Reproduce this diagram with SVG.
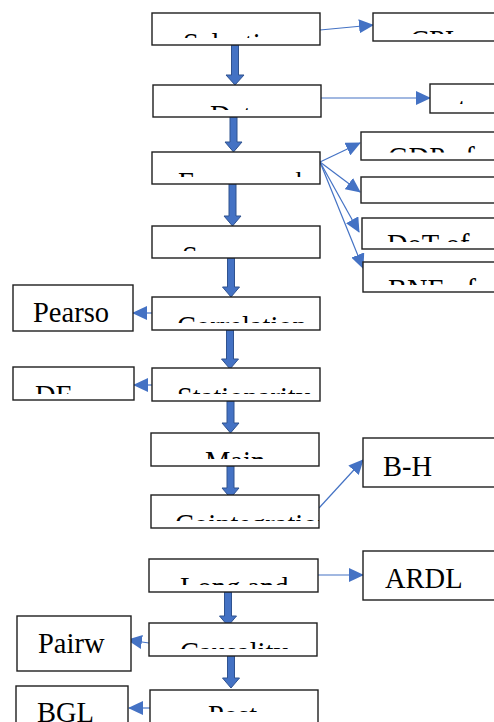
<svg xmlns="http://www.w3.org/2000/svg" width="494" height="722" viewBox="0 0 494 722">
<style>
.box{fill:#fff;stroke:#1e1e1e;stroke-width:1.4}
.t{font-family:"Liberation Serif","Times New Roman",serif;font-size:28.5px;fill:#000}
.thick{fill:#4472C4;stroke:#2F528F;stroke-width:1}
.thin{fill:none;stroke:#4472C4;stroke-width:1.2;marker-end:url(#ah)}
</style>
<defs>
<marker id="ah" markerUnits="userSpaceOnUse" markerWidth="15" markerHeight="14" refX="14" refY="7" orient="auto">
<path d="M0,0 L15,7 L0,14 Z" fill="#4472C4"/>
</marker>
<clipPath id="c1"><rect x="152" y="13" width="168" height="25"/></clipPath>
<clipPath id="c2"><rect x="153" y="85" width="168" height="25"/></clipPath>
<clipPath id="c3"><rect x="152" y="152" width="168" height="25"/></clipPath>
<clipPath id="c4"><rect x="152" y="226" width="168" height="25"/></clipPath>
<clipPath id="c5"><rect x="152" y="297" width="168" height="26"/></clipPath>
<clipPath id="c6"><rect x="152" y="368" width="168" height="26"/></clipPath>
<clipPath id="c7"><rect x="151" y="433" width="168" height="26"/></clipPath>
<clipPath id="c8"><rect x="151" y="495" width="168" height="26"/></clipPath>
<clipPath id="c9"><rect x="149" y="559" width="169" height="26"/></clipPath>
<clipPath id="c10"><rect x="149" y="623" width="168" height="26"/></clipPath>
<clipPath id="c11"><rect x="150" y="690" width="168" height="22"/></clipPath>
<clipPath id="r1"><rect x="373" y="13" width="121" height="21"/></clipPath>
<clipPath id="r2"><rect x="430" y="84" width="64" height="20"/></clipPath>
<clipPath id="r3"><rect x="361" y="132" width="133" height="20.5"/></clipPath>
<clipPath id="r5"><rect x="362" y="218" width="132" height="24"/></clipPath>
<clipPath id="r6"><rect x="363" y="262" width="131" height="23"/></clipPath>
<clipPath id="cdf"><rect x="13" y="367" width="121" height="27"/></clipPath>
</defs>

<g id="connectors">
<path class="thick" d="M231.5,45 L238.5,45 L238.5,75 L244,75 L235,85 L226,75 L231.5,75 Z"/>
<path class="thick" d="M230,117 L237,117 L237,142 L242,142 L233.5,152 L225,142 L230,142 Z"/>
<path class="thick" d="M229,184 L236,184 L236,216 L241,216 L232.5,226 L224,216 L229,216 Z"/>
<path class="thick" d="M227.5,258 L234.5,258 L234.5,287 L239.5,287 L231,297 L222.5,287 L227.5,287 Z"/>
<path class="thick" d="M226.5,330 L233.5,330 L233.5,359 L238.5,359 L230,369 L221.5,359 L226.5,359 Z"/>
<path class="thick" d="M227,401 L234,401 L234,423 L239,423 L230.5,433 L222,423 L227,423 Z"/>
<path class="thick" d="M227,466 L234,466 L234,488 L239,488 L230.5,498 L222,488 L227,488 Z"/>
<path class="thick" d="M224.5,592 L231.5,592 L231.5,616 L236.5,616 L228,626 L219.5,616 L224.5,616 Z"/>
<path class="thick" d="M227.5,655 L234.5,655 L234.5,678 L239.5,678 L231,688 L222.5,678 L227.5,678 Z"/>
<path class="thin" d="M320,30 L373,25"/>
<path class="thin" d="M321,98 L430,98"/>
<path class="thin" d="M320,162 L360,143"/>
<path class="thin" d="M320,162 L360,192"/>
<path class="thin" d="M320,162 L359,232"/>
<path class="thin" d="M320,162 L363,268"/>
<path class="thin" d="M152,313 L133,313"/>
<path class="thin" d="M152,385 L134,385"/>
<path class="thin" d="M319,508 L363,460"/>
<path class="thin" d="M318,575 L363,575"/>
<path class="thin" d="M149,643 L128,640"/>
<path class="thin" d="M150,708 L129,708"/>
</g>

<g id="n-selection"><rect class="box" x="152" y="13" width="168" height="32"/><text class="t" x="183" y="52.5" clip-path="url(#c1)">Selection</text></g>
<g id="n-cpi"><rect class="box" x="373" y="13" width="125" height="28"/><text class="t" x="410" y="50" clip-path="url(#r1)">CPI</text></g>
<g id="n-data"><rect class="box" x="153" y="85" width="168" height="32"/><text class="t" x="210" y="124.5" clip-path="url(#c2)">Data</text></g>
<g id="n-r2"><rect class="box" x="430" y="84" width="68" height="29"/><text class="t" x="458" y="118" clip-path="url(#r2)">two</text></g>
<g id="n-framework"><rect class="box" x="152" y="152" width="168" height="32"/><text class="t" x="178" y="191.5" clip-path="url(#c3)">Framework</text></g>
<g id="n-gdp"><rect class="box" x="361" y="132" width="137" height="28"/><text class="t" x="388" y="166.5" clip-path="url(#r3)">GDP of</text></g>
<g id="n-r4"><rect class="box" x="361" y="177" width="137" height="26"/></g>
<g id="n-dot"><rect class="box" x="362" y="218" width="136" height="31"/><text class="t" x="387" y="253.5" clip-path="url(#r5)">DoT of</text></g>
<g id="n-bne"><rect class="box" x="363" y="262" width="135" height="30"/><text class="t" x="388" y="298.5" clip-path="url(#r6)">BNE of</text></g>
<g id="n-summary"><rect class="box" x="152" y="226" width="168" height="32"/><text class="t" x="182" y="265.5" clip-path="url(#c4)">Summary</text></g>
<g id="n-correlation"><rect class="box" x="152" y="297" width="168" height="33"/><text class="t" x="177" y="336" clip-path="url(#c5)">Correlation</text></g>
<g id="n-pearson"><rect class="box" x="13" y="285" width="120" height="46"/><text class="t" x="33" y="322">Pearso</text></g>
<g id="n-stationarity"><rect class="box" x="152" y="368" width="168" height="33"/><text class="t" x="177" y="407" clip-path="url(#c6)">Stationarity</text></g>
<g id="n-df"><rect class="box" x="13" y="367" width="121" height="33"/><text class="t" x="35" y="405" clip-path="url(#cdf)">DF</text></g>
<g id="n-main"><rect class="box" x="151" y="433" width="168" height="33"/><text class="t" x="205" y="470.5" clip-path="url(#c7)">Main</text></g>
<g id="n-cointegration"><rect class="box" x="151" y="495" width="168" height="33"/><text class="t" x="175" y="533.5" clip-path="url(#c8)">Cointegration</text></g>
<g id="n-bh"><rect class="box" x="363" y="438" width="135" height="49"/><text class="t" x="383" y="476">B-H</text></g>
<g id="n-longrun"><rect class="box" x="149" y="559" width="169" height="33"/><text class="t" x="180" y="597" clip-path="url(#c9)">Long and</text></g>
<g id="n-ardl"><rect class="box" x="363" y="551" width="135" height="49"/><text class="t" x="385" y="588">ARDL</text></g>
<g id="n-causality"><rect class="box" x="149" y="623" width="168" height="33"/><text class="t" x="180" y="662" clip-path="url(#c10)">Causality</text></g>
<g id="n-pairwise"><rect class="box" x="17" y="616" width="114" height="55"/><text class="t" x="38" y="653">Pairw</text></g>
<g id="n-post"><rect class="box" x="150" y="690" width="168" height="40"/><text class="t" x="208" y="725" clip-path="url(#c11)">Post</text></g>
<g id="n-bgl"><rect class="box" x="16" y="686" width="112" height="44"/><text class="t" x="37" y="721.5">BGL</text></g>
</svg>
